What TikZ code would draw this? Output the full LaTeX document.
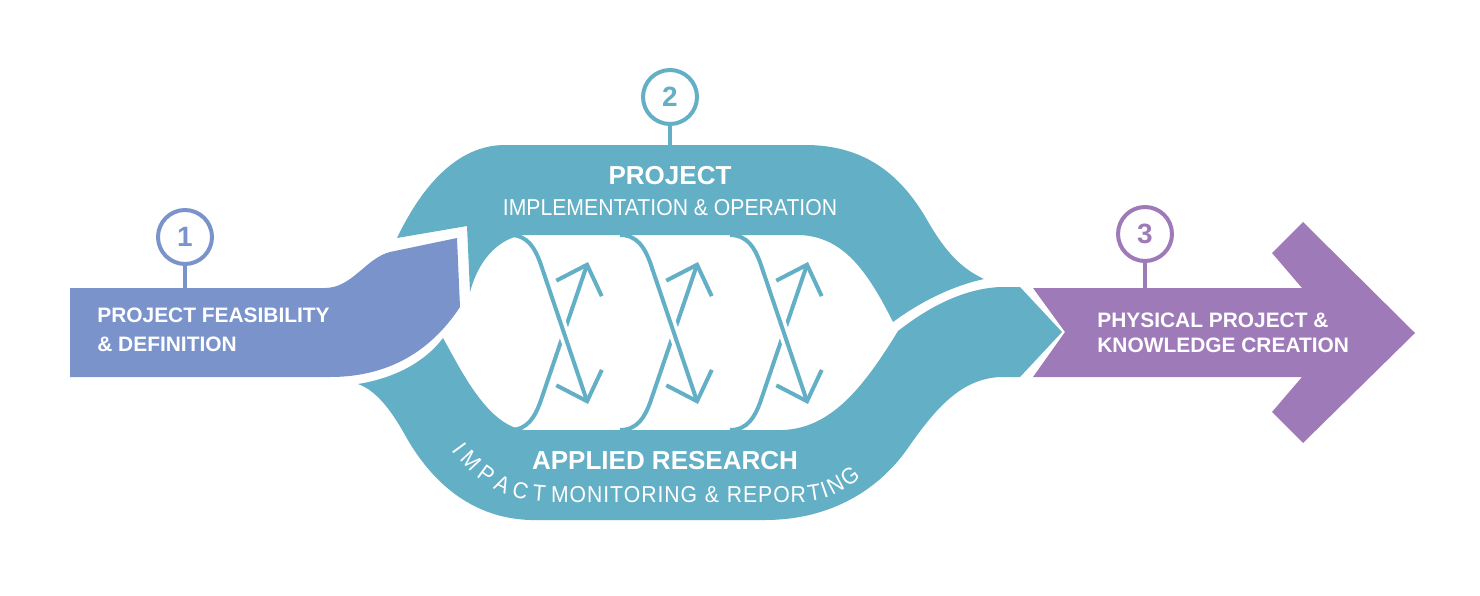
\documentclass[tikz,border=0pt]{standalone}
\usepackage{fontspec}
\setmainfont{Liberation Sans}
\newfontfamily\lightfont[FakeStretch=0.92]{Liberation Sans}
\usetikzlibrary{arrows.meta,calc,decorations.text}
\definecolor{flowteal}{RGB}{99,175,197}
\definecolor{flowblue}{RGB}{122,148,203}
\definecolor{flowpurple}{RGB}{158,123,184}

\begin{document}
\begin{tikzpicture}[
        x=0.02cm, y=-0.02cm,
        stagemark/.style={
            circle,
            draw=#1,
            text=#1,
            line width=0.08cm,
            minimum size=1.08cm,
            inner sep=0pt,
            font=\bfseries\fontsize{15.9}{16}\selectfont
        },
        stem/.style={line width=0.08cm},
        stagetext/.style={
            text=white,
            align=left,
            anchor=north west,
            inner sep=0pt
        },
        headline/.style={
            text=white,
            anchor=base,
            inner sep=0pt,
            font=\bfseries\fontsize{14.8}{16}\selectfont
        },
        subline/.style={
            text=white,
            anchor=base,
            inner sep=0pt,
            font=\lightfont\fontsize{13.1}{15}\selectfont
        },
        bent/.style={
            decorate,
            decoration={
                text along path,
                text align={fit to path},
                text color=white,
                text={|\lightfont\fontsize{13.1}{15}\selectfont|#1}
            }
        },
        twist/.style={
            flowteal,
            line width=0.08cm
        },
        arrowtip/.style={-{Straight Barb[length=0.5cm,width=0.96cm]}},
        halo/.style={white, line width=0.22cm}
    ]

        \useasboundingbox (0,0) rectangle (1480,595);

        % Stufe 1: Machbarkeit
        \fill[flowblue] (70,288) -- (325,288)
            .. controls (352,288) and (366,258) .. (390,252)
            -- (457,238) -- (460,307)
            .. controls (435,345) and (395,377) .. (330,377)
            -- (70,377) -- cycle;

        % Stufe 2: oberer Arm (Projekt)
        \fill[flowteal] (397,238) -- (467,226) -- (470,292)
            .. controls (478,262) and (496,240) .. (522,235)
            -- (800,235)
            .. controls (842,237) and (866,268) .. (893,322)
            .. controls (920,302) and (952,286) .. (984,279)
            .. controls (960,268) and (945,250) .. (930,225)
            .. controls (905,180) and (870,145) .. (805,145)
            -- (505,145)
            .. controls (455,145) and (420,190) .. (397,238)
            -- cycle;

        % Stufe 2: unterer Arm (Forschung)
        \fill[flowteal] (443,338)
            .. controls (462,372) and (488,426) .. (525,430)
            -- (783,430)
            .. controls (830,428) and (862,390) .. (898,331)
            .. controls (925,310) and (960,289) .. (1000,287)
            -- (1020,287) -- (1062,332) -- (1020,377) -- (1000,377)
            .. controls (960,379) and (935,410) .. (910,445)
            .. controls (880,490) and (830,520) .. (765,520)
            -- (530,520)
            .. controls (470,518) and (430,480) .. (405,435)
            .. controls (390,408) and (375,390) .. (358,384)
            .. controls (395,378) and (425,362) .. (443,338)
            -- cycle;

        % Verdrehte Pfeile zwischen den Armen
        \foreach \k in {0,1,2}{
            \begin{scope}[xshift=\k*2.2cm]
                \coordinate (up-foot) at (510,430);
                \coordinate (up-bend) at (540,403);
                \coordinate (up-tip)  at (588,262);
                \coordinate (dn-foot) at (510,235);
                \coordinate (dn-bend) at (540,262);
                \coordinate (dn-tip)  at (588,404);

                \draw[twist, arrowtip] (up-foot)
                    .. controls +(18,0) and +(-5,13) .. (up-bend)
                    -- (up-tip);
                \draw[halo] ($(dn-bend)!0.36!(dn-tip)$) -- ($(dn-bend)!0.64!(dn-tip)$);
                \draw[twist, arrowtip] (dn-foot)
                    .. controls +(18,0) and +(-5,-13) .. (dn-bend)
                    -- (dn-tip);
            \end{scope}
        }

        % Stufe 3: Ergebnis
        \fill[flowpurple] (1033,288) -- (1302,288) -- (1272,253) -- (1303,222)
            -- (1415,333) -- (1303,443) -- (1272,412) -- (1302,377)
            -- (1033,377) -- (1065,332) -- cycle;

        % Nummern
        \node[stagemark=flowblue]   (mark1) at (185,237)  {1};
        \node[stagemark=flowteal]   (mark2) at (670,97)   {2};
        \node[stagemark=flowpurple] (mark3) at (1145,234) {3};

        \coordinate (feasibility-top) at (185,289);
        \coordinate (project-top)     at (670,146);
        \coordinate (physical-top)    at (1145,289);

        \draw[stem, flowblue]   (mark1.south) -- (feasibility-top);
        \draw[stem, flowteal]   (mark2.south) -- (project-top);
        \draw[stem, flowpurple] (mark3.south) -- (physical-top);

        % Beschriftungen
        \node[stagetext, font=\bfseries\fontsize{11.9}{16.5}\selectfont]
            (feasibility) at (97,308) {PROJECT FEASIBILITY\\\& DEFINITION};
        \node[stagetext, font=\bfseries\fontsize{11.9}{14.2}\selectfont]
            (physical) at (1097,313) {PHYSICAL PROJECT \&\\KNOWLEDGE CREATION};

        \node[headline] (project)   at (670,184) {PROJECT};
        \node[subline]  (operation) at (670,215) {IMPLEMENTATION \& OPERATION};
        \node[headline] (research)  at (665,469) {APPLIED RESEARCH};

        % gebogene Zeile unten, in drei Stuecken
        \path[bent={IMPACT}] (452,450)
            .. controls (476,484) and (505,500) .. (545,502);
        \path[bent={MONITORING {\&} REPOR}] (551,502) -- (806,502);
        \path[bent={TING}] (809,501)
            .. controls (827,500) and (844,491) .. (861,477);

    \end{tikzpicture}
\end{document}
